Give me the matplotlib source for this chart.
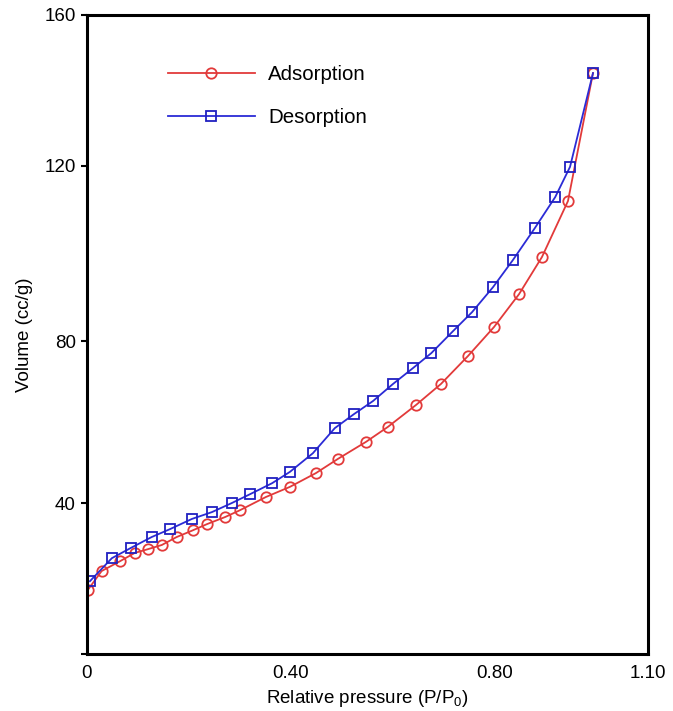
import matplotlib
matplotlib.use('Agg')
import matplotlib.pyplot as plt
import numpy as np

plt.rcParams['font.family'] = ['Liberation Sans', 'DejaVu Sans']

# adsorption branch
ads_x = [0.002, 0.029, 0.065, 0.094, 0.120, 0.147, 0.176, 0.208, 0.235, 0.271,
         0.300, 0.351, 0.398, 0.449, 0.492, 0.547, 0.590, 0.645, 0.694, 0.747,
         0.798, 0.847, 0.892, 0.943, 0.992]
ads_y = [17.0, 22.0, 24.6, 26.8, 27.8, 28.9, 31.0, 32.8, 34.4, 36.3,
         38.1, 41.5, 44.0, 47.4, 50.9, 55.1, 58.8, 64.2, 69.4, 76.3,
         83.2, 90.7, 99.2, 112.0, 144.6]

# desorption branch
des_x = [0.006, 0.049, 0.086, 0.127, 0.163, 0.206, 0.245, 0.284, 0.320, 0.363,
         0.398, 0.443, 0.486, 0.524, 0.561, 0.600, 0.639, 0.675, 0.718, 0.755,
         0.796, 0.835, 0.878, 0.918, 0.947, 0.992]
des_y = [19.3, 25.4, 28.1, 31.0, 33.1, 35.8, 37.6, 40.0, 42.2, 44.9,
         47.7, 52.3, 58.5, 62.0, 65.2, 69.4, 73.3, 77.0, 82.3, 86.6,
         92.3, 98.5, 105.8, 112.9, 119.8, 144.6]

xticks = [0, 0.40, 0.80, 1.10]
xticklabels = ['0', '0.40', '0.80', '1.10']
yticks = [0, 40, 80, 120, 160]
yticklabels = ['', '40', '80', '120', '160']

# the original y axis is not evenly spaced between its ticks
tick_pos = [0, 151, 313, 488, 639]

def fwd(v):
    return np.interp(v, yticks, tick_pos)

def inv(p):
    return np.interp(p, tick_pos, yticks)

fig = plt.figure(figsize=(6.73, 7.11), dpi=100)
ax = fig.add_axes([0.129, 0.080, 0.834, 0.899])
ax.set_yscale('function', functions=(fwd, inv))

ax.plot(ads_x, ads_y, '-o', color='#e23a3a', lw=1.3, ms=7.5, mfc='none',
        mec='#e23a3a', mew=1.3, label='Adsorption')
ax.plot(des_x, des_y, '-s', color='#2b2bd6', lw=1.3, ms=7.5, mfc='none',
        mec='#2020c0', mew=1.3, label='Desorption')

ax.set_xlim(0, 1.10)
ax.set_ylim(0, 160)
ax.set_xticks(xticks)
ax.set_xticklabels(xticklabels)
ax.set_yticks(yticks)
ax.set_yticklabels(yticklabels)
ax.minorticks_off()
ax.tick_params(axis='x', length=0, labelsize=13.5, pad=8)
ax.tick_params(axis='y', length=4, width=1.5, labelsize=13.5, pad=4)

for s in ax.spines.values():
    s.set_linewidth(2.2)

ax.set_xlabel(r'Relative pressure (P/P$\mathregular{_0}$)', fontsize=13.5, labelpad=4)
ax.set_ylabel('Volume (cc/g)', fontsize=13.5, labelpad=8)

ax.legend(loc='upper left', bbox_to_anchor=(0.144, 0.922), frameon=False,
          borderpad=0, borderaxespad=0, handlelength=4.25, handletextpad=0.63,
          labelspacing=1.19, fontsize=14.8)

fig.savefig('out.png', dpi=100)
